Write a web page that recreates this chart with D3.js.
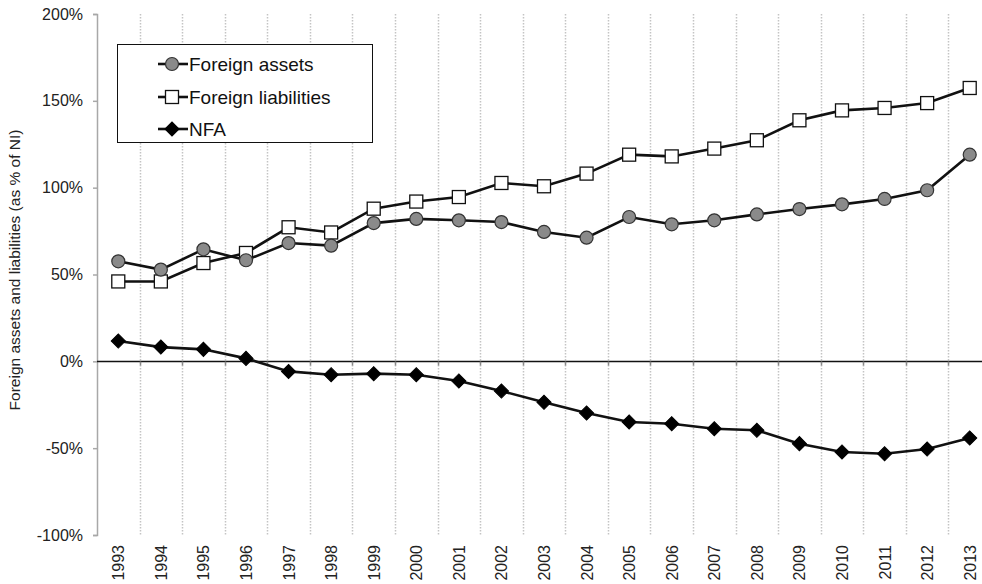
<!DOCTYPE html>
<html>
<head>
<meta charset="utf-8">
<script src="https://cdn.jsdelivr.net/npm/d3@7"></script>
<style>
  body { margin: 0; background: #fff; }
  svg { display: block; font-family: "Liberation Sans", Arial, sans-serif; }
</style>
</head>
<body>
<div class="chart"></div>
<script>
// data
const years = ["1993","1994","1995","1996","1997","1998","1999","2000","2001","2002","2003",
               "2004","2005","2006","2007","2008","2009","2010","2011","2012","2013"];
const foreignAssets = [57.6, 52.8, 64.5, 58.2, 68.1, 66.6, 79.6, 82.0, 81.2, 80.2, 74.5,
                       71.2, 83.1, 78.9, 81.2, 84.6, 87.7, 90.4, 93.5, 98.5, 119.0];
const foreignLiabilities = [46.0, 46.0, 56.6, 62.4, 77.2, 74.2, 87.9, 92.0, 94.6, 102.7, 100.8,
                            108.1, 119.0, 118.0, 122.5, 127.3, 138.8, 144.5, 145.9, 148.7, 157.4];
const nfa = [11.7, 8.2, 6.9, 1.7, -5.8, -7.7, -7.1, -7.7, -11.3, -17.1, -23.6,
             -29.8, -34.9, -35.9, -38.8, -39.7, -47.4, -52.2, -53.2, -50.5, -44.1];
const yTicks = [-100, -50, 0, 50, 100, 150, 200];
const seriesNames = ["Foreign assets", "Foreign liabilities", "NFA"];

const width = 982, height = 584;
const plotLeft = 97, plotRight = 991, plotTop = 14, plotBottom = 535;

const svg = d3.select(".chart").append("svg")
    .attr("width", width).attr("height", height);

const x = d3.scaleBand().domain(years).range([plotLeft, plotRight]);
const y = d3.scaleLinear().domain([-100, 200]).range([plotBottom, plotTop]);

// vertical dotted gridlines between categories
svg.append("g")
    .selectAll("line")
    .data(years.slice(1))
    .join("line")
    .attr("x1", d => Math.round(x(d)) + 0.5)
    .attr("x2", d => Math.round(x(d)) + 0.5)
    .attr("y1", plotTop)
    .attr("y2", plotBottom)
    .attr("stroke", "#c4c4c4")
    .attr("stroke-width", 1.5)
    .attr("stroke-dasharray", "1.5,1.5");

// y axis
const yAxis = d3.axisLeft(y).tickValues(yTicks).tickSize(4).tickFormat(d => d + "%");
const yAxisGroup = svg.append("g")
    .attr("transform", `translate(${plotLeft},0)`)
    .call(yAxis);
yAxisGroup.select(".domain").attr("stroke", "#a8a8a8").attr("stroke-width", 1.5);
yAxisGroup.selectAll(".tick line").attr("stroke", "#a8a8a8").attr("stroke-width", 1.5);
yAxisGroup.selectAll(".tick text")
    .attr("x", -14)
    .style("font-size", "16px")
    .attr("fill", "#222");

// zero line with tick marks at category boundaries
const zeroY = Math.round(y(0)) + 0.5;
svg.append("line")
    .attr("x1", plotLeft).attr("x2", width)
    .attr("y1", zeroY).attr("y2", zeroY)
    .attr("stroke", "#111").attr("stroke-width", 1.5);
svg.append("g")
    .selectAll("line")
    .data(years.slice(1))
    .join("line")
    .attr("x1", d => Math.round(x(d)) + 0.5)
    .attr("x2", d => Math.round(x(d)) + 0.5)
    .attr("y1", zeroY)
    .attr("y2", zeroY + 4)
    .attr("stroke", "#888")
    .attr("stroke-width", 1.5);

// x labels, rotated
svg.append("g")
    .selectAll("text")
    .data(years)
    .join("text")
    .attr("transform", d => `translate(${x(d) + x.bandwidth() / 2 + 6},545) rotate(-90)`)
    .attr("text-anchor", "end")
    .style("font-size", "16px")
    .attr("fill", "#222")
    .text(d => d);

// y axis title
svg.append("text")
    .attr("transform", `translate(20,270) rotate(-90)`)
    .attr("text-anchor", "middle")
    .style("font-size", "15.5px")
    .attr("fill", "#222")
    .text("Foreign assets and liabilities (as % of NI)");

const cx = (d, i) => x(years[i]) + x.bandwidth() / 2;
const line = d3.line().x(cx).y(d => y(d));

const diamond = d3.symbol().type(d3.symbolSquare).size(100);

function drawSeries(values, marker) {
    svg.append("path")
        .datum(values)
        .attr("d", line)
        .attr("fill", "none")
        .attr("stroke", "#111")
        .attr("stroke-width", 2.6);
    const g = svg.append("g");
    marker(g.selectAll("x").data(values).enter(), (d, i) => cx(d, i), d => y(d));
}

function circleMarker(sel, fx, fy) {
    sel.append("circle")
        .attr("cx", fx).attr("cy", fy).attr("r", 6.5)
        .attr("fill", "#8a8a8a").attr("stroke", "#333").attr("stroke-width", 1.2);
}
function squareMarker(sel, fx, fy) {
    sel.append("rect")
        .attr("x", (d, i) => fx(d, i) - 6.5).attr("y", d => fy(d) - 6.5)
        .attr("width", 13).attr("height", 13)
        .attr("fill", "#fff").attr("stroke", "#111").attr("stroke-width", 1.3);
}
function diamondMarker(sel, fx, fy) {
    sel.append("path")
        .attr("d", diamond)
        .attr("transform", (d, i) => `translate(${fx(d, i)},${fy(d)}) rotate(45)`)
        .attr("fill", "#000")
        .attr("stroke", "#000")
        .attr("stroke-width", 1);
}

drawSeries(foreignLiabilities, squareMarker);
drawSeries(foreignAssets, circleMarker);
drawSeries(nfa, diamondMarker);

// legend
const legend = svg.append("g");
legend.append("rect")
    .attr("x", 117.5).attr("y", 44.5)
    .attr("width", 255).attr("height", 98)
    .attr("fill", "#fff").attr("stroke", "#111").attr("stroke-width", 1);

const markers = [circleMarker, squareMarker, diamondMarker];
const rowY = [64, 97, 129];
seriesNames.forEach((name, i) => {
    legend.append("line")
        .attr("x1", 158).attr("x2", 188)
        .attr("y1", rowY[i]).attr("y2", rowY[i])
        .attr("stroke", "#111").attr("stroke-width", 2.6);
    const sel = legend.append("g").selectAll("x").data([0]).enter();
    markers[i](sel, () => 172, () => rowY[i]);
    legend.append("text")
        .attr("x", 189).attr("y", rowY[i] + 7)
        .style("font-size", "19px")
        .attr("fill", "#111")
        .text(name);
});
</script>
</body>
</html>
